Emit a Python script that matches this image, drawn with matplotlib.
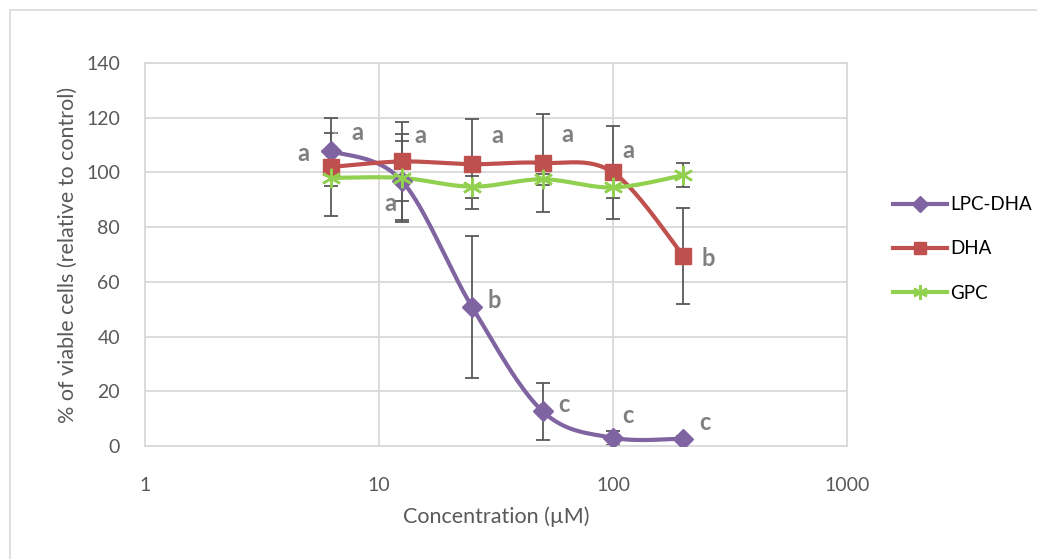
import numpy as np
import matplotlib
matplotlib.use("Agg")
import matplotlib.pyplot as plt
from matplotlib.patches import Rectangle

plt.rcParams["font.family"] = ["Lato", "DejaVu Sans"]

# datos
conc = [6.25, 12.5, 25, 50, 100, 200]

lpc_dha = [107.8, 97.0, 50.8, 12.7, 3.0, 2.7]
lpc_dha_err = [6.5, 14.5, 26.0, 10.5, 2.5, 1.0]
lpc_dha_letters = ["a", "a", "b", "c", "c", "c"]

dha = [102.0, 104.0, 103.0, 103.5, 100.0, 69.5]
dha_err = [18.0, 14.4, 16.5, 18.0, 17.0, 17.5]
dha_letters = ["a", "a", "a", "a", "a", "b"]

gpc = [98.0, 98.0, 94.8, 97.5, 94.5, 99.0]
gpc_err = [3.0, 16.0, 4.0, 2.0, 4.0, 4.3]

# desplazamiento (pixeles) de cada letra respecto de su punto
lpc_offsets = [(-28, -2), (-11, -23), (22, 7), (21, 7), (15, 22), (21, 16)]
dha_offsets = [(26, 34), (19, 26), (25, 29), (25, 28), (15, 22), (25, -3)]


def smooth(x, y, n=40):
    """Curva suavizada tipo Excel (Bezier Catmull-Rom) en espacio log10(x)."""
    lx = np.log10(x)
    y = np.asarray(y, dtype=float)
    px = np.concatenate([[lx[0]], lx, [lx[-1]]])
    py = np.concatenate([[y[0]], y, [y[-1]]])
    xs, ys = [], []
    t = np.linspace(0, 1, n)
    for i in range(1, len(px) - 2):
        p0 = np.array([px[i], py[i]])
        p3 = np.array([px[i + 1], py[i + 1]])
        c1 = p0 + (p3 - np.array([px[i - 1], py[i - 1]])) / 6
        c2 = p3 - (np.array([px[i + 2], py[i + 2]]) - p0) / 6
        b = ((1 - t) ** 3)[:, None] * p0 + (3 * (1 - t) ** 2 * t)[:, None] * c1 \
            + (3 * (1 - t) * t ** 2)[:, None] * c2 + (t ** 3)[:, None] * p3
        xs.append(b[:, 0])
        ys.append(b[:, 1])
    return 10 ** np.concatenate(xs), np.concatenate(ys)


fig = plt.figure(figsize=(10.37, 5.59), dpi=100)
ax = fig.add_axes([145 / 1037, 1 - 446 / 559, 702 / 1037, 383 / 559])

fig.patches.append(Rectangle((10 / 1037, -0.1), 1.1, 1 - 10 / 559 + 0.1,
                             transform=fig.transFigure, fill=False,
                             edgecolor="#d9d9d9", linewidth=1.2))

series = [
    ("LPC-DHA", lpc_dha, lpc_dha_err, "#8064a2", "D", 10.5),
    ("DHA", dha, dha_err, "#c0504d", "s", 12),
    ("GPC", gpc, gpc_err, "#92d050", (6, 2, 0), 14),
]

for name, vals, err, color, marker, ms in series:
    sx, sy = smooth(conc, vals)
    ax.plot(sx, sy, color=color, linewidth=3.0, zorder=3, solid_capstyle="round")
    ax.errorbar(conc, vals, yerr=err, fmt="none", ecolor="#595959",
                elinewidth=1.3, capsize=5, capthick=1.3, zorder=2)
    mew = 1.8 if marker == (6, 2, 0) else 1
    ax.plot(conc, vals, linestyle="none", marker=marker, markersize=ms,
            color=color, markeredgecolor=color, markeredgewidth=mew, zorder=4)
    ax.plot([], [], color=color, linewidth=3.0, marker=marker,
            markersize=ms * 0.75, markeredgewidth=mew, label=name)

# lineas guia de las etiquetas del primer punto
ax.annotate("", (6.25, 114.5), xytext=(8, 0), textcoords="offset pixels",
            arrowprops=dict(arrowstyle="-", color="#a6a6a6", lw=1.3))
ax.annotate("", (6.25, 108.0), xytext=(-12, 0), textcoords="offset pixels",
            arrowprops=dict(arrowstyle="-", color="#a6a6a6", lw=1.3))

for vals, letters, offs in [(lpc_dha, lpc_dha_letters, lpc_offsets),
                            (dha, dha_letters, dha_offsets)]:
    for xv, yv, lt, off in zip(conc, vals, letters, offs):
        ax.annotate(lt, (xv, yv), xytext=off, textcoords="offset pixels",
                    ha="center", va="center", fontsize=17, fontweight="bold",
                    color="#7f7f7f", zorder=5)

ax.set_xscale("log")
ax.set_xlim(1, 1000)
ax.set_ylim(0, 140)
ax.set_yticks(range(0, 141, 20))
ax.set_xticks([1, 10, 100, 1000])
ax.set_xticklabels(["1", "10", "100", "1000"])
ax.minorticks_off()
ax.grid(True, color="#d9d9d9", linewidth=1.3)
ax.set_axisbelow(True)
for s in ax.spines.values():
    s.set_color("#d9d9d9")
    s.set_linewidth(1.3)
ax.tick_params(length=0, labelsize=14, labelcolor="#595959")
ax.tick_params(axis="x", pad=22)
ax.tick_params(axis="y", pad=18)

ax.set_xlabel("Concentration (µM)", fontsize=15.5, color="#595959", labelpad=9)
ax.set_ylabel("% of viable cells (relative to control)", fontsize=15.5,
              color="#595959", labelpad=6)

leg = fig.legend(loc="center left", bbox_to_anchor=(893 / 1037, 1 - 249 / 559),
                 frameon=False, fontsize=13.5, handlelength=2.9,
                 labelspacing=1.45, handletextpad=0.15,
                 borderpad=0, borderaxespad=0)

fig.savefig("out.png", dpi=100)
